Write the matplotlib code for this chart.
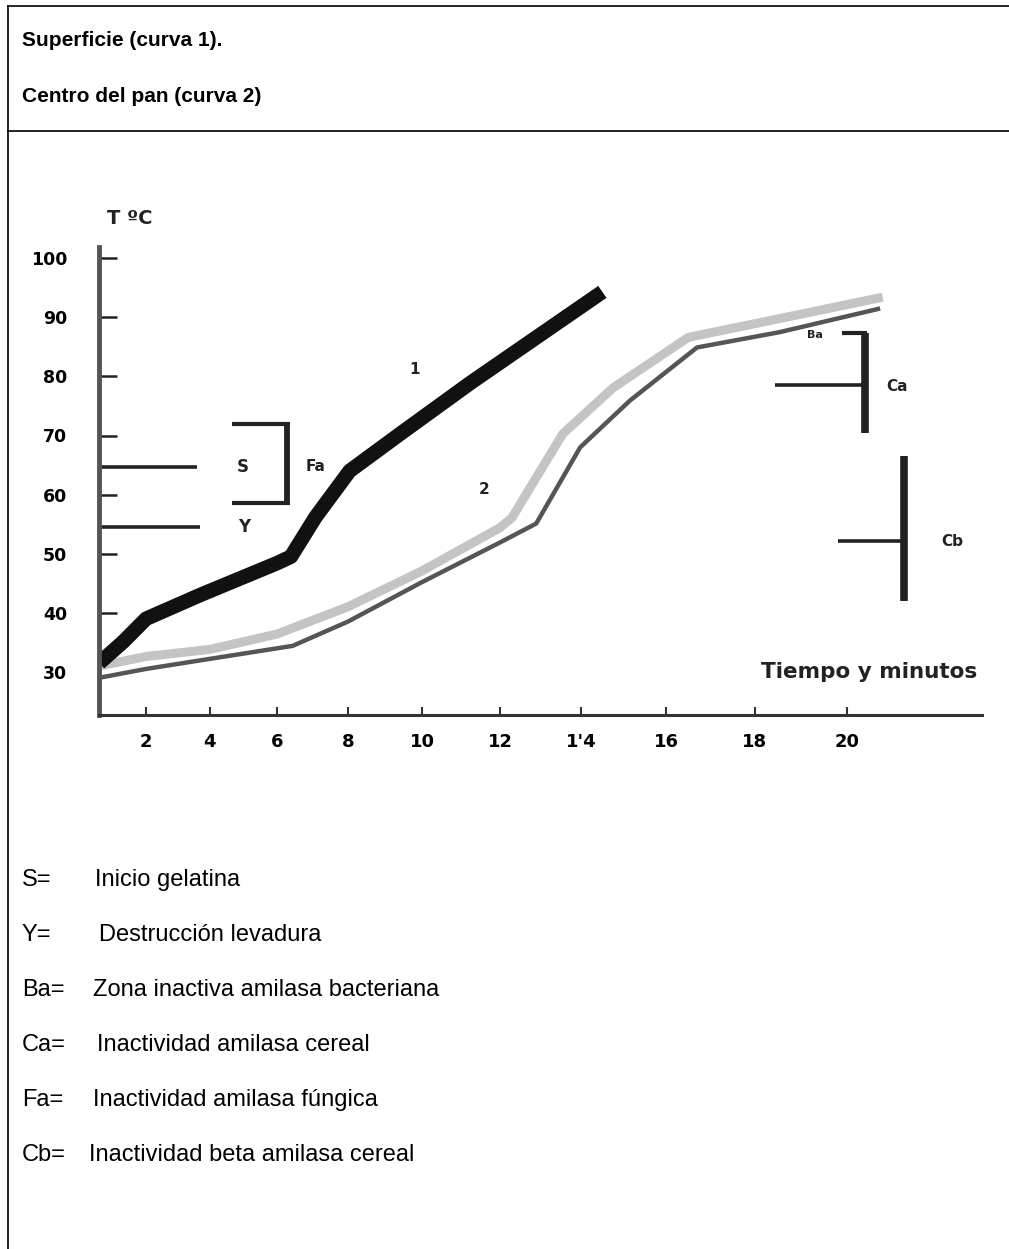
import numpy as np
import matplotlib
matplotlib.use("Agg")
import matplotlib.pyplot as plt
from matplotlib.lines import Line2D

# ---------------------------------------------------------------------------
# Data (time in minutes, temperature in C)
# ---------------------------------------------------------------------------
curve1_t = [0.45, 1.25, 2.0, 3.7, 6.0, 6.4, 7.1, 8.05, 9.4, 11.25, 14.5]
curve1_T = [31.5, 35.1, 39.0, 43.0, 48.4, 49.5, 56.2, 64.0, 70.2, 78.9, 94.3]

curve2_light_t = [0.45, 2.0, 4.0, 6.0, 8.0, 10.0, 12.0, 12.3, 13.55, 14.76, 16.5, 18.55, 20.75]
curve2_light_T = [31.0, 32.6, 33.8, 36.4, 41.0, 47.1, 54.4, 56.1, 70.3, 78.1, 86.6, 89.8, 93.4]

curve2_dark_t = [0.45, 2.0, 4.0, 6.45, 8.0, 10.0, 12.0, 12.9, 13.97, 15.15, 16.7, 18.55, 20.7]
curve2_dark_T = [29.0, 30.5, 32.2, 34.4, 38.5, 45.2, 51.9, 55.1, 68.0, 75.9, 84.9, 87.5, 91.5]

x_ticks = [2, 4, 6, 8, 10, 12, 14, 16, 18, 20]
x_labels = ["2", "4", "6", "8", "10", "12", "1'4", "16", "18", "20"]
y_ticks = [30, 40, 50, 60, 70, 80, 90, 100]

# markers: (x0, x1, y) horizontal, (x, y0, y1) vertical
s_line = (0.44, 3.6, 64.7)
y_line = (0.44, 3.7, 54.5)
fa_top = (4.67, 6.37, 71.9)
fa_bot = (4.67, 6.37, 58.6)
fa_vert = (6.3, 71.9, 58.6)
ba_top = (19.9, 20.42, 87.3)
ca_vert = (20.38, 87.3, 70.5)
ca_line = (18.44, 20.35, 78.5)
cb_vert = (21.2, 66.6, 42.0)
cb_line = (19.8, 21.15, 52.2)

legend_keys = ["S=", "Y=", "Ba=", "Ca=", "Fa=", "Cb="]
legend_text = ["Inicio gelatina", "Destrucción levadura",
               "Zona inactiva amilasa bacteriana", "Inactividad amilasa cereal",
               "Inactividad amilasa fúngica", "Inactividad beta amilasa cereal"]
legend_x = [95, 99, 93, 97, 93, 89]   # text start in px, as typed in the original

# hand drawn time axis gets wider to the right
K = 0.01524


def fwd(t):
    t = np.asarray(t, dtype=float)
    return t + K * t * t


def inv(u):
    u = np.asarray(u, dtype=float)
    return (np.sqrt(np.maximum(1 + 4 * K * u, 0)) - 1) / (2 * K)


W, H = 1009, 1249
fig = plt.figure(figsize=(W / 100, H / 100), dpi=100)

# page frame
fig.add_artist(Line2D([8 / W, 1], [1 - 6 / H, 1 - 6 / H], color="black", lw=1.2))
fig.add_artist(Line2D([8 / W, 1], [1 - 131 / H, 1 - 131 / H], color="black", lw=1.2))
fig.add_artist(Line2D([8 / W, 8 / W], [0, 1 - 6 / H], color="black", lw=1.2))

hdr = dict(family="Liberation Sans", fontweight="bold", fontsize=15, va="center")
fig.text(22 / W, 1 - 40 / H, "Superficie (curva 1).", **hdr)
fig.text(22 / W, 1 - 97 / H, "Centro del pan (curva 2)", **hdr)

# chart
ax = fig.add_axes([99 / W, 534 / H, (982 - 99) / W, (715 - 247) / H])
ax.set_xscale("function", functions=(fwd, inv))
ax.set_xlim(0.44, 22.8)
ax.set_ylim(22.7, 101.9)

for sp in ["top", "right"]:
    ax.spines[sp].set_visible(False)
ax.spines["left"].set_linewidth(3.5)
ax.spines["left"].set_color("#555555")
ax.spines["bottom"].set_linewidth(2.2)
ax.spines["bottom"].set_color("#333333")

bold = dict(family="DejaVu Sans", fontweight="bold")

ax.set_yticks(y_ticks)
ax.set_yticklabels([str(v) for v in y_ticks], fontsize=12.5, **bold)
ax.tick_params(axis="y", direction="in", length=13, width=1.8, pad=23, color="#222222")
ax.yaxis.get_major_ticks()[0].tick1line.set_visible(False)

ax.set_xticks(x_ticks)
ax.set_xticklabels(x_labels, fontsize=13, **bold)
ax.tick_params(axis="x", direction="in", length=6, width=1.5, pad=13, color="#333333")
ax.minorticks_off()

# curve 2: light band with a darker edge below
ax.plot(curve2_light_t, curve2_light_T, color="#c4c4c4", lw=6.5,
        solid_joinstyle="round", solid_capstyle="butt")
ax.plot(curve2_dark_t, curve2_dark_T, color="#555555", lw=3.2,
        solid_joinstyle="round", solid_capstyle="butt")
# curve 1: thick black band
ax.plot(curve1_t, curve1_T, color="#111111", lw=10.5,
        solid_joinstyle="round", solid_capstyle="butt")

for x0, x1, y in [s_line, y_line, ca_line, cb_line]:
    ax.plot([x0, x1], [y, y], color="#222222", lw=2.6, solid_capstyle="butt")
for x0, x1, y in [fa_top, fa_bot, ba_top]:
    ax.plot([x0, x1], [y, y], color="#222222", lw=3.0, solid_capstyle="butt")
ax.plot([fa_vert[0]] * 2, fa_vert[1:], color="#222222", lw=4.2, solid_capstyle="butt")
for x, y0, y1 in [ca_vert, cb_vert]:
    ax.plot([x, x], [y0, y1], color="#222222", lw=5.5, solid_capstyle="butt")

lab = dict(ha="center", va="center", color="#222222", **bold)
ax.text(5.0, 64.7, "S", fontsize=12, **lab)
ax.text(5.05, 54.5, "Y", fontsize=12, **lab)
ax.text(7.1, 64.7, "Fa", fontsize=11, **lab)
ax.text(19.3, 87.0, "Ba", fontsize=8, **lab)
ax.text(21.05, 78.3, "Ca", fontsize=11, **lab)
ax.text(22.2, 52.0, "Cb", fontsize=11, clip_on=False, **lab)
ax.text(9.8, 81.1, "1", fontsize=11, **lab)
ax.text(11.6, 60.8, "2", fontsize=11, **lab)

ax.text(22.7, 29.9, "Tiempo y minutos", fontsize=15.5, ha="right", va="center",
        color="#222222", clip_on=False, **bold)
fig.text(130 / W, 1 - 218 / H, "T ºC", fontsize=14, ha="center", va="center",
         color="#222222", **bold)

# legend below the chart
leg = dict(family="Liberation Sans", fontsize=17, va="center")
for i, (k, txt) in enumerate(zip(legend_keys, legend_text)):
    y = 1 - (880 + 55 * i) / H
    fig.text(22 / W, y, k, **leg)
    fig.text(legend_x[i] / W, y, txt, **leg)

fig.savefig("out.png", dpi=100)
